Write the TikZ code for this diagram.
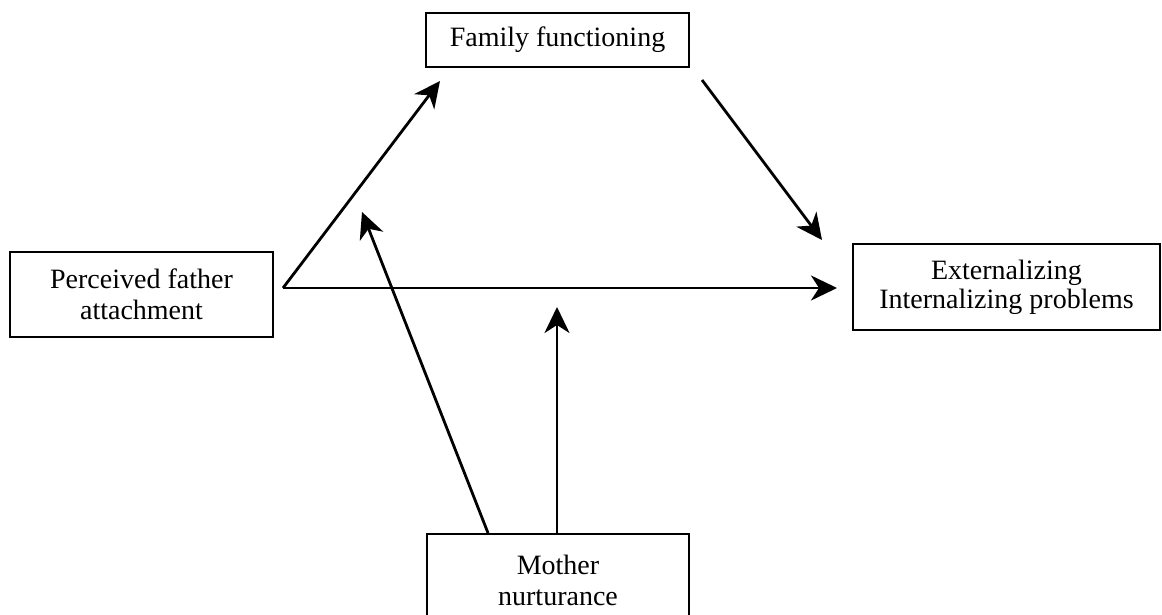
\documentclass[tikz,border=0pt]{standalone}
\usepackage{fontspec}
\setmainfont{Liberation Serif}
\usetikzlibrary{arrows.meta}
\begin{document}
\begin{tikzpicture}[x=1pt,y=-1pt,
  box/.style={draw, line width=2.8pt, inner sep=0pt, align=center,
    font=\fontsize{28}{31}\selectfont},
  arr/.style={line width=2.8pt, -{Stealth[length=26pt,width=25pt,inset=8pt]}}]
\useasboundingbox (0,0) rectangle (1162,615);
\clip (0,0) rectangle (1162,615);
\node[box, minimum width=263pt, minimum height=54pt] (fam) at (557.5,40) {Family functioning};
\node[box, minimum width=263pt, minimum height=85pt] (fat) at (141.5,294.5) {Perceived father\\attachment};
\node[box, minimum width=307pt, minimum height=86pt, font=\fontsize{28}{29}\selectfont] (ext) at (1006.5,287) {Externalizing\\Internalizing problems};
\node[box, minimum width=262pt, minimum height=92pt] (mot) at (558,580) {Mother\\nurturance};
\coordinate (s1) at (283,288);
\coordinate (t1) at (440,81);
\coordinate (t2) at (837,288);
\coordinate (s3) at (702,80);
\coordinate (t3) at (822,240);
\coordinate (s4) at (488,533);
\coordinate (t4) at (362,212);
\coordinate (s5) at (557,533);
\coordinate (t5) at (557,307);
\draw[arr] (s1) -- (t1);
\draw[arr] (s1) -- (t2);
\draw[arr] (s3) -- (t3);
\draw[arr] (s4) -- (t4);
\draw[arr] (s5) -- (t5);
\end{tikzpicture}
\end{document}
